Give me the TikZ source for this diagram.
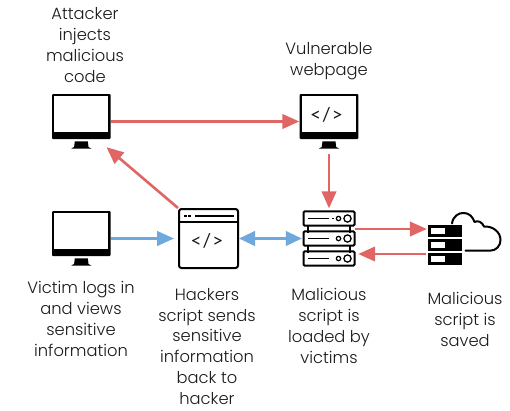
\documentclass[tikz,border=0pt]{standalone}
\usepackage{fontspec}
\setmainfont{Poppins}[UprightFont=* Light]
\newfontfamily\codefont{Lato}
\usetikzlibrary{arrows.meta}
\definecolor{redc}{HTML}{E06666}
\definecolor{bluec}{HTML}{6FA8DC}
\tikzset{
  iconbox/.style={inner sep=0pt,minimum width=58pt,minimum height=55pt},
  winbox/.style={inner sep=0pt,minimum width=59pt,minimum height=59pt,draw=black,line width=2pt,rounded corners=2.5pt},
  srvbox/.style={inner sep=0pt,minimum width=52pt,minimum height=56pt},
  stobox/.style={inner sep=0pt,minimum width=34pt,minimum height=40pt},
  lbl/.style={align=center,inner sep=0pt,font=\fontsize{16.3}{21}\selectfont,text=black!90},
  lbltight/.style={align=center,inner sep=0pt,font=\fontsize{16.3}{20.6}\selectfont,text=black!90},
  codetag/.style={inner sep=0pt,font=\codefont\fontsize{19}{19}\selectfont,text=black!90},
  redarrow/.style={draw=redc,line width=2.6pt,-{Triangle[length=17pt,width=14.5pt]}},
  bluearrow/.style={draw=bluec,line width=2.6pt,-{Triangle[length=17pt,width=14.5pt]}},
  bluedouble/.style={draw=bluec,line width=2.6pt,{Triangle[length=16pt,width=14.5pt]}-{Triangle[length=16pt,width=14.5pt]}},
  frameline/.style={draw=black,line width=2pt,rounded corners=1.2pt},
}
\newcommand{\monitoricon}[3]{% name, cx, cy
  \node[iconbox] (#1) at (#2,#3) {};
  \begin{scope}[shift={(#2,#3)}]
    \fill[black,rounded corners=1pt] (-29.3,-27.5) rectangle (29.3,17.5);
    \fill[white] (-27,-25.2) rectangle (27,10);
    \fill[black] (-6.5,19.8) -- (6.5,19.8) -- (7.2,25.5) -- (10,27) -- (-10,27) -- (-7.2,25.5) -- cycle;
  \end{scope}
}
\newcommand{\serverrow}[1]{% cy relative
  \draw[frameline] (-25.5,#1-7.2) rectangle (25.5,#1+7.2);
  \draw[black,line width=1.7pt] (-21,#1) -- (-0.5,#1);
  \draw[black,line width=1.2pt] (9.5,#1) circle (2.2pt);
  \draw[black,line width=1.3pt] (18.5,#1) circle (3.6pt);
}
\begin{document}
\begin{tikzpicture}[x=1pt,y=-1pt]
\useasboundingbox (0,0) rectangle (510,410);
\fill[white] (0,0) rectangle (510,410);

% monitors
\monitoricon{attacker}{81.3}{121.5}
\monitoricon{victim}{81.3}{238.5}
\monitoricon{vuln}{329}{121.5}
\node[codetag] (vulncode) at (326.5,115) {<\kern1pt/\kern1pt>};

% window
\node[winbox] (win) at (208.5,238.5) {};
\draw[black,line width=2pt] (179,221.7) -- (238,221.7);
\draw[black,line width=1.6pt,dash pattern=on 2.5pt off 1.6pt] (184,215.8) -- (192,215.8);
\draw[black,line width=1.6pt] (195,215.8) -- (234,215.8);
\node[codetag] (wincode) at (207,241) {<\kern1pt/\kern1pt>};

% server
\node[srvbox] (server) at (329,238.5) {};
\begin{scope}[shift={(329,238.5)}]
  \draw[black,line width=1.2pt] (-21,-14) -- (-21,-6) (21,-14) -- (21,-6) (-21,6) -- (-21,14) (21,6) -- (21,14);
  \serverrow{-20}
  \draw[black,line width=1.7pt] (3,-20) -- (5,-20);
  \draw[white,line width=1.8pt] (-0.5,-20) -- (2,-20);
  \serverrow{0}
  \serverrow{20}
\end{scope}

% storage with cloud
\node[stobox] (store) at (445,245) {};
\foreach \ry in {225,239,253}{
  \fill[black] (428,\ry) rectangle (462,\ry+12);
  \fill[white] (431,\ry+3) rectangle (445,\ry+9);
}
\draw[black,line width=2pt,line cap=round,line join=round]
  (452,223.5) .. controls (453,216) and (459,212.5) .. (464,213)
  .. controls (469,213) and (473,217) .. (474.5,222)
  .. controls (478,220) and (482,222) .. (484,226.5)
  .. controls (493,226) and (500.5,232) .. (500.5,240)
  .. controls (500.5,246) and (496,250.7) .. (490,250.7)
  -- (465.5,250.7);

% connectors
\draw[redarrow,shorten <=0.5pt,shorten >=0.5pt] (attacker.east) -- (vuln.west);
\draw[redarrow,shorten <=5pt,shorten >=2pt] (vuln.south) -- (server.north);
\draw[redarrow] (win.north west) -- ([xshift=-4pt,yshift=2pt]attacker.south east);
\draw[bluearrow,shorten >=4pt] (victim.east) -- (win.west);
\draw[bluedouble,shorten >=1pt] (win.east) -- (server.west);
\draw[redarrow] ([yshift=9.5pt]server.east) -- ([yshift=16pt,xshift=-1pt]store.west);
\draw[redarrow] ([yshift=-9pt,xshift=-2pt]store.west) -- ([yshift=-15.5pt,xshift=3pt]server.east);

% labels
\node[lbl] (lattacker) at (85,45) {Attacker\\injects\\malicious\\code};
\node[lbl] (lvuln) at (329,61) {Vulnerable\\webpage};
\node[lbl] (lvictim) at (81,319) {Victim logs in\\and views\\sensitive\\information};
\node[lbl,font=\fontsize{16.3}{20.7}\selectfont] (lwin) at (207,346.3) {Hackers\\script sends\\sensitive\\information\\back to\\hacker};
\node[lbl] (lserver) at (329,326) {Malicious\\script is\\loaded by\\victims};
\node[lbl] (lstore) at (465,319.5) {Malicious\\script is\\saved};
\end{tikzpicture}
\end{document}
